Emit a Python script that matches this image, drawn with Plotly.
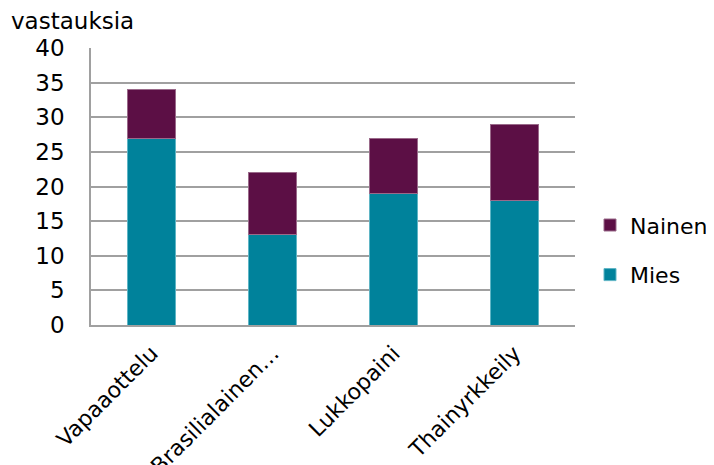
import plotly.graph_objects as go

categories = ["Vapaaottelu", "Brasilialainen…", "Lukkopaini", "Thainyrkkeily"]
mies = [27, 13, 19, 18]
nainen = [7, 9, 8, 11]
y_ticks = [0, 5, 10, 15, 20, 25, 30, 35, 40]

FONT = "DejaVu Sans"
fig = go.Figure()
fig.add_trace(go.Bar(name="Mies", x=categories, y=mies, legendrank=2, legendgroup="m",
                     marker=dict(color="#00829B", line=dict(color="#5FB5C5", width=1))))
fig.add_trace(go.Bar(name="Nainen", x=categories, y=nainen, legendrank=1, legendgroup="n",
                     marker=dict(color="#5C0F45", line=dict(color="#9A6A8A", width=1))))

fig.update_layout(
    barmode="stack",
    bargap=0.6,
    width=722, height=465,
    margin=dict(l=83, r=155, t=40, b=148),
    paper_bgcolor="white", plot_bgcolor="white",
    font=dict(family=FONT, size=22, color="black"),
    legend=dict(x=1.031, xanchor="left", y=0.27, yanchor="middle",
                traceorder="grouped", tracegroupgap=18, font=dict(size=22), itemwidth=30),
    showlegend=True,
)
fig.update_yaxes(range=[0, 40], tickvals=y_ticks, showgrid=True, gridcolor="#A0A0A0", gridwidth=1.5,
                 showline=True, linecolor="#A0A0A0", linewidth=1.5, ticks="", ticklabelstandoff=20,
                 zeroline=False, tickfont=dict(size=23), automargin=False)
fig.update_xaxes(showline=True, linecolor="#A0A0A0", linewidth=1.5, tickangle=-45, ticks="",
                 tickfont=dict(size=22), ticklabelstandoff=5, automargin=False)
fig.add_annotation(text="vastauksia", xref="paper", yref="paper", x=-0.17, y=1.0, yshift=12,
                   xanchor="left", yanchor="bottom", showarrow=False, font=dict(size=23))
fig.write_html("out.html")
